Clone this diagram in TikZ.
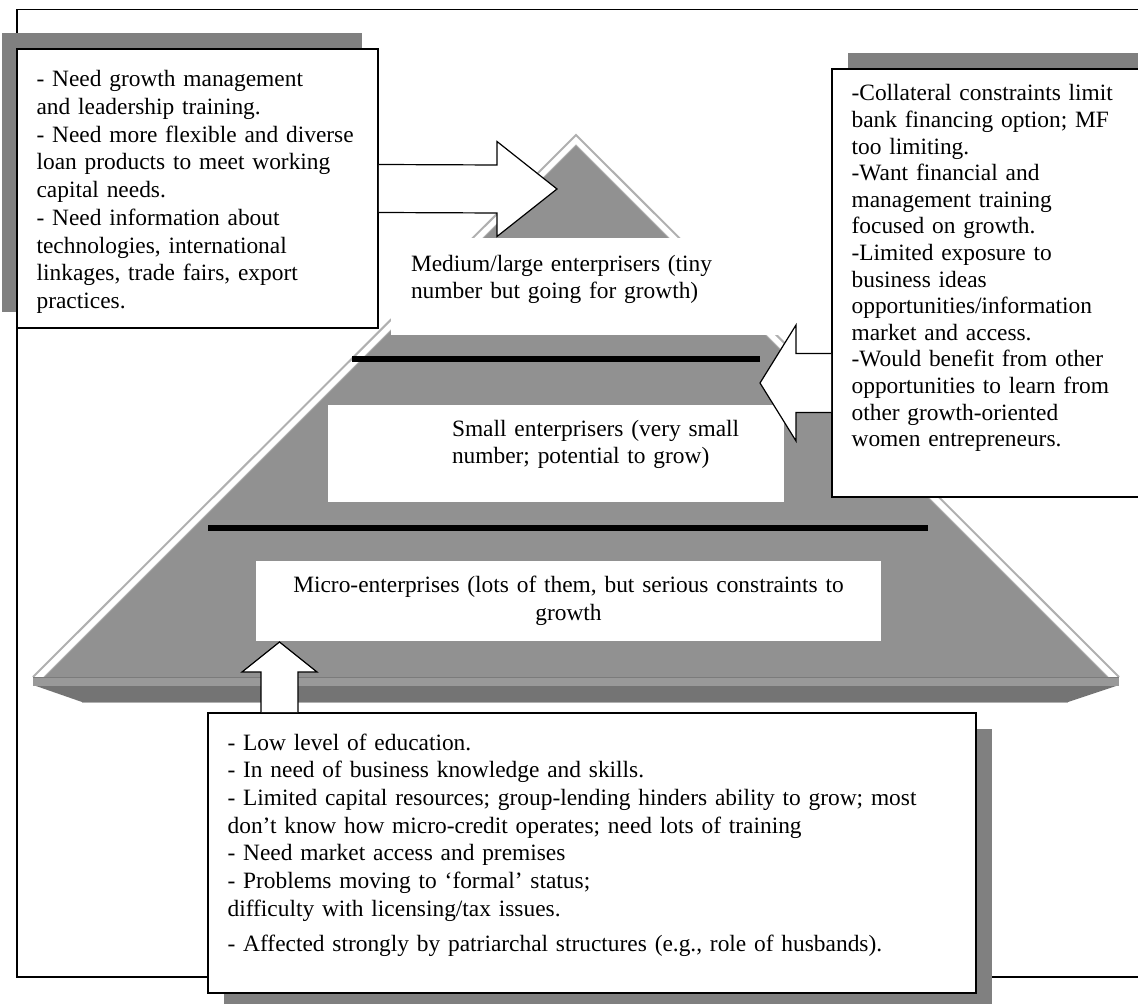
\documentclass[tikz,border=0pt]{standalone}
\usepackage{fontspec}
\setmainfont{Liberation Serif}
\usetikzlibrary{calc}

\definecolor{pyrgray}{HTML}{919191}
\definecolor{bevelgray}{HTML}{B0B0B0}
\definecolor{shadowgray}{HTML}{808080}
\definecolor{bandlight}{HTML}{999999}
\definecolor{banddark}{HTML}{747474}

\begin{document}
\begin{tikzpicture}[x=0.5pt,y=0.5pt,yscale=-1,xscale=1,
    box/.style={draw=black, line width=0.8pt, fill=white, inner sep=0pt},
    tier/.style={fill=white, inner sep=0pt},
    txt/.style={font=\fontsize{11.7pt}{13.85pt}\selectfont, align=left, inner sep=0pt, anchor=north west},
    blockarrow/.style={draw=black, line width=0.6pt, fill=white, line join=miter},
    bar/.style={line width=3pt}]
    \useasboundingbox (0,0) rectangle (1138,1004);

    % Shape: Frame
    \draw [line width=0.6pt] (17,9.5) rectangle (1142,977) ;

    % Shape: Pyramid bevel
    \draw [bevelgray, line width=1pt] (33,677) -- (576,135) -- (1119,677) ;
    % Shape: Pyramid
    \fill [pyrgray] (44,677) -- (576,145) -- (1108,677) -- cycle ;
    \draw [bevelgray, line width=0.5pt] (44,677) -- (576,145) -- (1108,677) ;
    % Shape: Base bands
    \fill [bandlight] (33,677) rectangle (1119,686) ;
    \draw [pyrgray!85!black, line width=0.5pt] (33,677) -- (1119,677) ;
    \fill [banddark] (36,686) -- (1116,686) -- (1068,702) -- (82,702) -- cycle ;
    \draw [bevelgray, line width=0.5pt] (82,702) -- (1068,702) ;

    % Shape: Tier rectangles
    \node [tier, minimum width=202pt, minimum height=48.5pt] (medrect) at (593,286.5) {};
    \node [tier, minimum width=228pt, minimum height=48.5pt] (smallrect) at (556,453.5) {};
    \node [tier, minimum width=312.5pt, minimum height=40pt, text width=312.5pt, align=center,
        font=\fontsize{11.7pt}{13.85pt}\selectfont] (microrect) at (568.5,601)
        {Micro-enterprises (lots of them, but serious constraints to\\ growth};
    % Text Node
    \node [txt, text width=180pt] (medtext) at ([shift={(20,17)}]medrect.north west)
        {Medium/large enterprisers (tiny\\ number but going for growth)};
    % Text Node
    \node [txt, text width=180pt] (smalltext) at ([shift={(124,15)}]smallrect.north west)
        {Small enterprisers (very small\\ number; potential to grow)};

    % Shape: Tier lines
    \draw [bar] (352,359) -- (760,359) ;
    \draw [bar] (208,528) -- (928,528) ;

    % Shape: Shadows
    \fill [shadowgray] (2,33) rectangle (362,312) ;
    \fill [shadowgray] (848,53) rectangle (1158,481) ;
    \fill [shadowgray] (224,729) rectangle (992,1009) ;

    % Shape: Boxes
    \node [box, minimum width=180.5pt, minimum height=139.5pt] (lbox) at (197.5,188.5) {};
    \node [box, minimum width=155pt, minimum height=214pt] (rbox) at (987,283) {};
    \node [box, minimum width=384pt, minimum height=140pt] (lowbox) at (592,853) {};

    % Text Node
    \node [txt, text width=170pt] (ltext) at ([shift={(20,22)}]lbox.north west)
        {- Need growth management\\
        and leadership training.\\
        - Need more flexible and diverse\\
        loan products to meet working\\
        capital needs.\\
        - Need information about\\
        technologies, international\\
        linkages, trade fairs, export\\
        practices.};
    % Text Node
    \node [txt, text width=150pt, font=\fontsize{11.7pt}{13.3pt}\selectfont] (rtext) at ([shift={(20,16)}]rbox.north west)
        {-Collateral constraints limit\\
        bank financing option; MF\\
        too limiting.\\
        -Want financial and\\
        management training\\
        focused on growth.\\
        -Limited exposure to\\
        business ideas\\
        opportunities/information\\
        market and access.\\
        -Would benefit from other\\
        opportunities to learn from\\
        other growth-oriented\\
        women entrepreneurs.};
    % Text Node
    \node [txt, text width=370pt] (lowtext) at ([shift={(20,21)}]lowbox.north west)
        {- Low level of education.\\
        - In need of business knowledge and skills.\\
        - Limited capital resources; group-lending hinders ability to grow; most\\
        don’t know how micro-credit operates; need lots of training\\
        - Need market access and premises\\
        - Problems moving to ‘formal’ status;\\
        difficulty with licensing/tax issues.\\[3.6pt]
        - Affected strongly by patriarchal structures (e.g., role of husbands).};

    % Connection
    \coordinate (tipA) at (557,189);
    \draw [blockarrow] ($(lbox.east)+(0,-24)$) -- ($(tipA)+(-60,-24)$) -- ($(tipA)+(-60,-47.5)$) -- (tipA)
        -- ($(tipA)+(-60,47.5)$) -- ($(tipA)+(-60,24)$) -- ($(lbox.east)+(0,24)$) ;
    % Connection
    \coordinate (tipB) at (760,383);
    \draw [blockarrow] ($(rbox.west |- tipB)+(0,-29.5)$) -- ($(tipB)+(36,-29.5)$) -- ($(tipB)+(36,-58)$) -- (tipB)
        -- ($(tipB)+(36,58)$) -- ($(tipB)+(36,29.5)$) -- ($(rbox.west |- tipB)+(0,29.5)$) ;
    % Connection
    \coordinate (tipC) at (279.5,642);
    \draw [blockarrow] ($(tipC |- lowbox.north)+(-18.5,0)$) -- ($(tipC)+(-18.5,30)$) -- ($(tipC)+(-37.5,30)$) -- (tipC)
        -- ($(tipC)+(37.5,30)$) -- ($(tipC)+(18.5,30)$) -- ($(tipC |- lowbox.north)+(18.5,0)$) ;

\end{tikzpicture}
\end{document}
